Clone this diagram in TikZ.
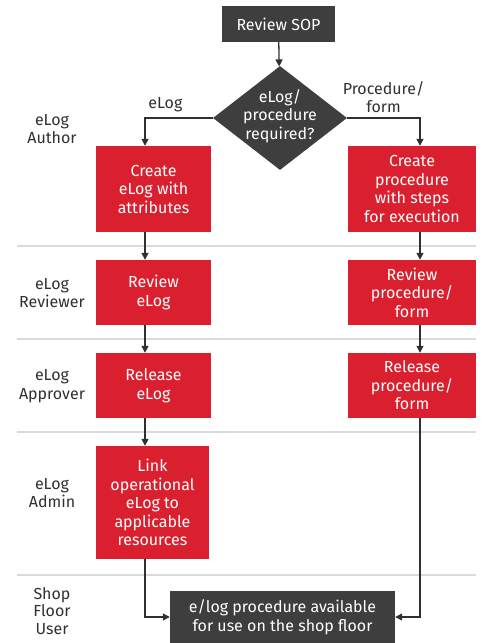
\documentclass[tikz,border=0pt]{standalone}
\usepackage{fontspec}
\setmainfont{Fira Sans}
\usetikzlibrary{shapes.geometric,arrows.meta}
\definecolor{hwred}{RGB}{218, 32, 46}
\definecolor{charcoal}{RGB}{62, 62, 62}
\definecolor{inkgray}{RGB}{48, 48, 48}
\definecolor{lanegray}{RGB}{218, 218, 218}
\tikzset{
  stepbox/.style  = {fill=hwred, text=white, align=center, inner sep=0pt},
  darkbox/.style  = {fill=charcoal, text=white, align=center, inner sep=0pt},
  lanelabel/.style= {text=inkgray, align=center},
  flow/.style     = {draw=inkgray, line width=1.3pt, -{Triangle[length=7pt,width=7pt]}},
  laneline/.style = {draw=lanegray, line width=2pt}
}

\begin{document}
\begin{tikzpicture}[x=1pt, y=-1pt, font=\fontsize{16}{18.5}\selectfont]
            \useasboundingbox (0,0) rectangle (482,643);
            % swim lane separators
            \foreach \ly in {246, 339, 432, 575}
                \draw[laneline] (17,\ly) -- (476,\ly);
            % lane names
            \node[lanelabel] (author)   at ( 52, 129) {eLog\\Author};
            \node[lanelabel] (reviewer) at ( 52, 293) {eLog\\Reviewer};
            \node[lanelabel] (approver) at ( 52, 386) {eLog\\Approver};
            \node[lanelabel] (admin)    at ( 52, 493) {eLog\\Admin};
            \node[lanelabel, font=\fontsize{16}{17.5}\selectfont] (shop) at ( 52, 611) {Shop\\Floor\\User};
            % start and decision
            \node[darkbox, minimum width=113pt, minimum height=36pt] (sop) at (278.5, 24) {Review SOP};
            \node[diamond, fill=charcoal, minimum width=134pt, minimum height=104pt, inner sep=0pt] (dec) at (280, 118) {};
            \node[text=white, align=center] (dectext) at (280, 116) {eLog/\\procedure\\required?};
            % eLog column
            \node[stepbox, minimum width=115pt, minimum height=86pt]  (mklog)  at (153.5, 189)   {Create\\eLog with\\attributes};
            \node[stepbox, minimum width=115pt, minimum height=65pt]  (revlog) at (153.5, 292.5) {Review\\eLog};
            \node[stepbox, minimum width=115pt, minimum height=65pt]  (rellog) at (153.5, 385.5) {Release\\eLog};
            \node[stepbox, minimum width=113pt, minimum height=113pt] (lnklog) at (152.5, 502.5) {Link\\operational\\eLog to\\applicable\\resources};
            % procedure column
            \node[stepbox, minimum width=128pt, minimum height=86pt]  (mkproc)  at (412, 189)   {Create\\procedure\\with steps\\for execution};
            \node[stepbox, minimum width=128pt, minimum height=65pt]  (revproc) at (412, 292.5) {Review\\procedure/\\form};
            \node[stepbox, minimum width=128pt, minimum height=65pt]  (relproc) at (412, 385.5) {Release\\procedure/\\form};
            % end
            \node[darkbox, minimum width=225pt, minimum height=52pt] (done) at (282.5, 617) {e/log procedure available\\for use on the shop floor};
            % connectors
            \draw[flow] (sop) -- (dec);
            \draw[flow] (dec.west) -| node[pos=0.35, above=2pt, text=inkgray] {eLog} (mklog.north -| 145,0);
            \draw[flow] (dec.east) -| node[pos=0.25, above=1pt, text=inkgray, align=center] {Procedure/\\form} (mkproc.north -| 420,0);
            \draw[flow] (mklog.south -| 145,0)   -- (revlog.north -| 145,0);
            \draw[flow] (revlog.south -| 145,0)  -- (rellog.north -| 145,0);
            \draw[flow] (rellog.south -| 145,0)  -- (lnklog.north -| 145,0);
            \draw[flow] (mkproc.south -| 420,0)  -- (revproc.north -| 420,0);
            \draw[flow] (revproc.south -| 420,0) -- (relproc.north -| 420,0);
            \draw[flow] (lnklog.south -| 145,0)  |- (done.west);
            \draw[flow] (relproc.south -| 420,0) |- (done.east);
        \end{tikzpicture}
\end{document}
